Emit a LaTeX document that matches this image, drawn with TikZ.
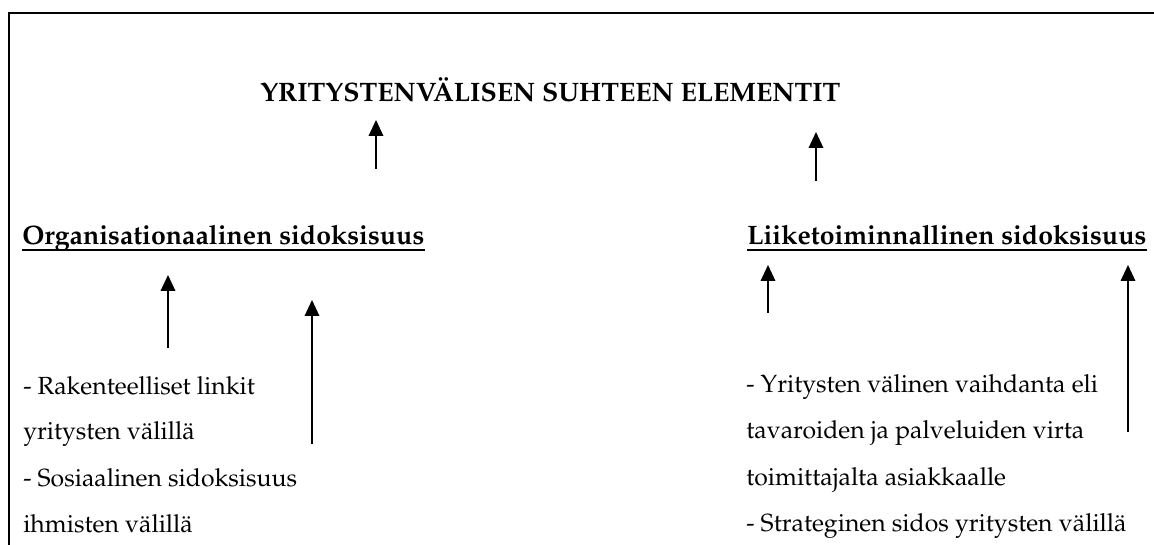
\documentclass[tikz,border=0pt]{standalone}
\usepackage[T1]{fontenc}
\usepackage{mathpazo}
\usetikzlibrary{arrows.meta}
\begin{document}
\begin{tikzpicture}[x=0.75pt,y=-0.75pt,
  txt/.style={anchor=base west,inner sep=0pt,font=\fontsize{18.6}{22}\selectfont},
  hd/.style={anchor=base west,inner sep=0pt,font=\fontsize{20}{24}\selectfont\bfseries},
  uline/.style={line width=1.2pt},
  frame/.style={line width=1.3pt},
  up/.style={line width=1pt,-{Triangle[length=12pt,width=11pt]}}]
\useasboundingbox (0,0) rectangle (1154,545);
% frame
\coordinate (fb) at (9,545);
\coordinate (fc) at (9,13);
\coordinate (fr) at (1154,13);
\draw[frame] (fb) -- (fc) -- (fr);
% title
\node[hd] (title) at (260,102) {YRITYSTENV\"ALISEN SUHTEEN ELEMENTIT};
% headings
\node[hd] (org) at (22,245) {Organisationaalinen sidoksisuus};
\node[hd] (lii) at (747,245) {Liiketoiminnallinen sidoksisuus};
\draw[uline] ([yshift=-3.8pt]org.base west) -- ([yshift=-3.8pt]org.base east);
\draw[uline] ([yshift=-3.8pt]lii.base west) -- ([yshift=-3.8pt]lii.base east);
% left body
\node[txt] (l1) at (23,395) {- Rakenteelliset linkit};
\node[txt] (l2) at (23,440) {yritysten v\"alill\"a};
\node[txt] (l3) at (23,486) {- Sosiaalinen sidoksisuus};
\node[txt] (l4) at (23,532) {ihmisten v\"alill\"a};
% right body
\node[txt] (r1) at (746,393) {- Yritysten v\"alinen vaihdanta eli};
\node[txt] (r2) at (746,439) {tavaroiden ja palveluiden virta};
\node[txt] (r3) at (746,485) {toimittajalta asiakkaalle};
\node[txt] (r4) at (746,531) {- Strateginen sidos yritysten v\"alill\"a};
% arrows
\coordinate (a1s) at (376,169); \coordinate (a1e) at (376,120);
\coordinate (a2s) at (816,181); \coordinate (a2e) at (816,132);
\coordinate (a3s) at (168,348); \coordinate (a3e) at (168,275);
\coordinate (a4s) at (312,444); \coordinate (a4e) at (312,300);
\coordinate (a5s) at (768,313); \coordinate (a5e) at (768,265);
\coordinate (a6s) at (1128,432); \coordinate (a6e) at (1128,265);
\draw[up] (a1s) -- (a1e);
\draw[up] (a2s) -- (a2e);
\draw[up] (a3s) -- (a3e);
\draw[up] (a4s) -- (a4e);
\draw[up] (a5s) -- (a5e);
\draw[up] (a6s) -- (a6e);
\end{tikzpicture}
\end{document}
